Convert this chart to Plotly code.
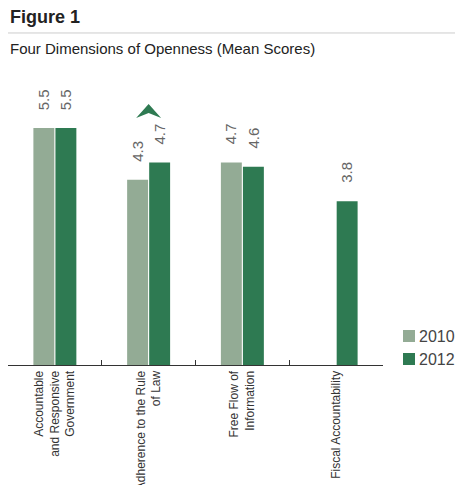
import plotly.graph_objects as go

# Mean openness scores by dimension
categories = [
    "Accountable<br>and Responsive<br>Government",
    "Adherence to the Rule<br>of Law",
    "Free Flow of<br>Information",
    "Fiscal Accountability",
]
years = ["2010", "2012"]
scores_2010 = [5.5, 4.3, 4.7, None]
scores_2012 = [5.5, 4.7, 4.6, 3.8]
colors = ["#93ab95", "#2e7a52"]

SANS = "Liberation Sans, Arial, Helvetica, sans-serif"

fig = go.Figure()
for name, vals, col in zip(years, [scores_2010, scores_2012], colors):
    fig.add_trace(go.Bar(
        x=categories, y=vals, name=name, marker_color=col,
        marker_line_width=0, showlegend=False,
    ))

annotations = []
# value labels above each bar, rotated
for offset, vals in zip([-11, 11], [scores_2010, scores_2012]):
    for cat, v in zip(categories, vals):
        if v is None:
            continue
        annotations.append(dict(
            x=cat, y=v, xref="x", yref="y", text=f"{v:.1f}",
            showarrow=False, textangle=-90, xshift=offset, yshift=16,
            xanchor="center", yanchor="bottom",
            font=dict(family=SANS, size=15, color="#666666"),
        ))

# heading texts
annotations += [
    dict(x=0, y=1.221, xref="paper", yref="paper", text="<b>Figure 1</b>",
         showarrow=False, xanchor="left", yanchor="middle",
         font=dict(family=SANS, size=18, color="#222222")),
    dict(x=0, y=1.112, xref="paper", yref="paper",
         text="Four Dimensions of Openness (Mean Scores)",
         showarrow=False, xanchor="left", yanchor="middle",
         font=dict(family=SANS, size=15, color="#222222")),
]

shapes = [
    dict(type="line", xref="paper", yref="paper", x0=0, x1=1.2,
         y0=1.165, y1=1.165, line=dict(color="#cccccc", width=1)),
]

# legend drawn as swatches with labels
for i, (name, col) in enumerate(zip(years, colors)):
    yc = (365 - (336 + 23 * i)) / 285
    shapes.append(dict(type="rect", xref="paper", yref="paper",
                       x0=(403 - 8) / 375, x1=(415 - 8) / 375,
                       y0=yc - 6 / 285, y1=yc + 6 / 285,
                       fillcolor=col, line_width=0))
    annotations.append(dict(x=(417 - 8) / 375, y=yc, xref="paper", yref="paper",
                            text=name, showarrow=False, xanchor="left",
                            yanchor="middle",
                            font=dict(family=SANS, size=16, color="#444444")))

# increase marker over the second dimension
cx = 1.5 / 4
hw = 12.5 / 375
ytop, ybot, ynotch = (365 - 104) / 285, (365 - 118) / 285, (365 - 113) / 285
shapes.append(dict(
    type="path", xref="paper", yref="paper",
    path=f"M {cx-hw},{ybot} L {cx},{ytop} L {cx+hw},{ybot} L {cx},{ynotch} Z",
    fillcolor="#2e7a52", line_width=0,
))

fig.update_layout(
    width=455, height=485,
    margin=dict(l=8, r=72, t=80, b=120, autoexpand=False),
    paper_bgcolor="white", plot_bgcolor="white",
    barmode="group", bargap=0.53, bargroupgap=0.05,
    annotations=annotations, shapes=shapes,
    xaxis=dict(
        tickson="boundaries", ticks="inside", ticklen=5, tickcolor="#333333",
        showline=True, linecolor="#333333", linewidth=1,
        tickangle=-90, showgrid=False, automargin=False,
        tickfont=dict(family=SANS, size=12, color="#333333"),
    ),
    yaxis=dict(range=[0, 285 / 43.1], visible=False, showgrid=False,
               automargin=False),
)

fig.write_html("out.html")
